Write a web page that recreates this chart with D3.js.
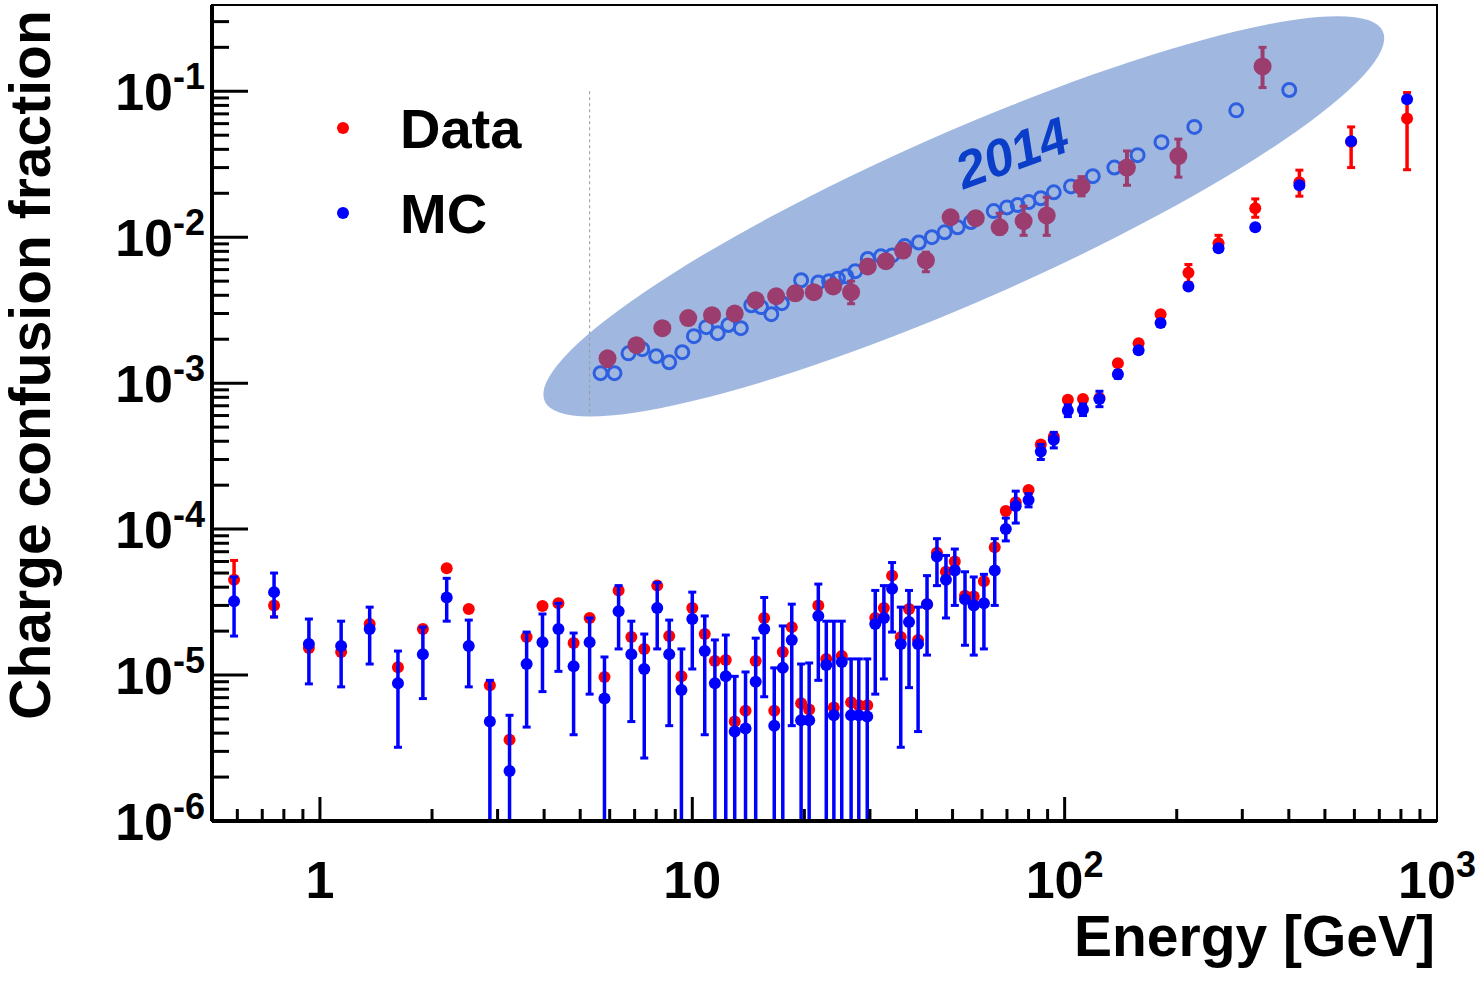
<!DOCTYPE html>
<html><head><meta charset="utf-8">
<script src="https://cdn.jsdelivr.net/npm/d3@7"></script>
<style>body{margin:0;background:#fff}text{font-family:"Liberation Sans",Arial,sans-serif;font-weight:bold}</style>
</head><body><svg width="1477" height="981"></svg>
<script>
// current measurement: energy, data, MC, MC error band
const energy = [0.588,0.753,0.934,1.14,1.36,1.62,1.89,2.19,2.51,2.86,3.23,3.59,3.96,4.37,4.80,5.30,5.81,6.34,6.86,7.43,8.05,8.67,9.35,
  10.0,10.8,11.5,12.3,13.0,13.9,14.8,15.6,16.6,17.5,18.5,19.6,20.6,21.8,22.9,24.0,25.2,26.7,28.0,29.5,31.0,32.7,34.4,36.3,38.2,40.4,42.7,
  45.4,48.0,50.7,54.0,57.0,60.7,64.9,69.5,73.9,80.0,86.3,93.5,102,112,124,139,158,181,215,259,325,427,588,831]
const dataVal = [4.5e-5,3.0e-5,1.53e-5,1.44e-5,2.24e-5,1.13e-5,2.07e-5,5.4e-5,2.83e-5,8.5e-6,3.6e-6,1.82e-5,2.97e-5,3.1e-5,1.66e-5,2.46e-5,9.7e-6,3.8e-5,1.82e-5,1.51e-5,4.1e-5,1.85e-5,9.8e-6,
  2.88e-5,1.91e-5,1.25e-5,1.27e-5,4.8e-6,5.7e-6,1.25e-5,2.46e-5,5.7e-6,1.44e-5,2.13e-5,6.4e-6,5.8e-6,3.0e-5,1.29e-5,6.0e-6,1.35e-5,6.5e-6,6.2e-6,6.2e-6,2.46e-5,2.88e-5,4.8e-5,1.82e-5,2.83e-5,1.74e-5,3.06e-5,
  6.9e-5,5.1e-5,6.0e-5,3.5e-5,3.45e-5,4.4e-5,7.5e-5,1.33e-4,1.53e-4,1.85e-4,3.8e-4,4.3e-4,7.7e-4,7.8e-4,7.9e-4,1.37e-3,1.88e-3,2.97e-3,5.7e-3,9.1e-3,1.58e-2,2.38e-2,4.5e-2,6.5e-2]
const dataLo = [null,2.5e-5,null,null,null,null,null,null,null,null,null,null,null,null,null,null,null,null,null,null,null,null,null,
  null,null,null,null,null,null,null,null,null,null,null,null,null,null,null,null,null,null,null,null,null,null,null,null,null,null,null,
  null,null,null,null,null,null,null,null,null,null,null,null,null,null,null,null,null,null,4.9e-3,null,1.37e-2,1.91e-2,3.0e-2,2.9e-2]
const dataHi = [6.1e-5,null,null,null,null,null,null,null,null,null,null,null,null,null,null,null,null,null,null,null,null,null,null,
  null,null,null,null,null,null,null,null,null,null,null,null,null,null,null,null,null,null,null,null,null,null,null,null,null,null,null,
  null,null,null,null,null,null,null,null,null,null,null,null,null,null,null,null,null,null,6.5e-3,1.03e-2,1.83e-2,2.88e-2,5.7e-2,9.8e-2]
const mcVal = [3.2e-5,3.7e-5,1.63e-5,1.58e-5,2.07e-5,8.8e-6,1.39e-5,3.4e-5,1.58e-5,4.8e-6,2.2e-6,1.19e-5,1.68e-5,2.07e-5,1.15e-5,1.68e-5,6.9e-6,2.74e-5,1.39e-5,1.1e-5,2.88e-5,1.39e-5,7.9e-6,
  2.42e-5,1.46e-5,8.8e-6,9.8e-6,4.1e-6,4.3e-6,9.0e-6,2.07e-5,4.5e-6,1.12e-5,1.74e-5,4.9e-6,4.9e-6,2.54e-5,1.17e-5,5.3e-6,1.23e-5,5.3e-6,5.3e-6,5.2e-6,2.24e-5,2.46e-5,3.9e-5,1.63e-5,2.31e-5,1.63e-5,3.06e-5,
  6.5e-5,4.5e-5,5.2e-5,3.3e-5,3.0e-5,3.1e-5,5.2e-5,1.0e-4,1.44e-4,1.58e-4,3.4e-4,4.1e-4,6.5e-4,6.6e-4,7.8e-4,1.15e-3,1.68e-3,2.58e-3,4.6e-3,8.4e-3,1.17e-2,2.27e-2,4.55e-2,8.8e-2]
const mcLo = [1.85e-5,2.5e-5,8.7e-6,8.3e-6,1.19e-5,3.2e-6,6.9e-6,2.34e-5,8.3e-6,1e-7,1e-7,4.4e-6,7.7e-6,1.06e-5,3.9e-6,7.4e-6,1e-7,1.51e-5,4.8e-6,2.7e-6,1.51e-5,4.5e-6,1e-7,
  1.1e-5,3.9e-6,1e-7,1e-7,1e-7,1e-7,1e-7,7.1e-6,1e-7,1e-7,4.5e-6,1e-7,1e-7,9.2e-6,1e-7,1e-7,1e-7,1e-7,1e-7,1e-7,7.4e-6,9.4e-6,1.97e-5,3.2e-6,8.2e-6,4.1e-6,1.37e-5,
  4.1e-5,2.46e-5,3.0e-5,1.6e-5,1.37e-5,1.51e-5,3.0e-5,8.3e-5,1.1e-4,1.42e-4,3.0e-4,3.6e-4,5.9e-4,6.0e-4,6.9e-4,1.08e-3,1.6e-3,2.45e-3,4.4e-3,8.0e-3,1.12e-2,2.2e-2,4.4e-2,8.5e-2]
const mcHi = [4.7e-5,5.0e-5,2.42e-5,2.34e-5,2.92e-5,1.46e-5,2.13e-5,4.6e-5,2.38e-5,9.2e-6,5.3e-6,1.97e-5,2.62e-5,3.1e-5,1.94e-5,2.46e-5,1.33e-5,4.1e-5,2.34e-5,1.91e-5,4.3e-5,2.38e-5,1.51e-5,
  3.7e-5,2.54e-5,1.74e-5,1.88e-5,9.8e-6,1.05e-5,1.79e-5,3.4e-5,1.12e-5,2.17e-5,3.06e-5,1.19e-5,1.21e-5,4.2e-5,2.34e-5,2.34e-5,2.34e-5,1.29e-5,1.29e-5,1.29e-5,3.8e-5,4.1e-5,5.9e-5,2.92e-5,3.8e-5,2.92e-5,4.8e-5,
  8.6e-5,6.6e-5,7.3e-5,5.1e-5,4.7e-5,4.9e-5,8.6e-5,1.19e-4,1.82e-4,1.75e-4,3.8e-4,4.6e-4,7.1e-4,7.2e-4,8.8e-4,1.22e-3,1.76e-3,2.7e-3,4.8e-3,8.8e-3,1.22e-2,2.35e-2,4.7e-2,9.1e-2]

// 2014 result (inside the shaded ellipse)
const e2014Data = [5.92,7.08,8.31,9.75,11.3,13.0,14.8,16.8,18.9,21.2,23.9,26.7,29.6,33.1,36.8,42.4,49.4,57.7,66.9,77.6,89.5,111,147,202,340]
const v2014Data = [1.48e-3,1.82e-3,2.38e-3,2.79e-3,2.92e-3,3.0e-3,3.7e-3,3.94e-3,4.13e-3,4.2e-3,4.6e-3,4.2e-3,6.3e-3,6.85e-3,8.1e-3,6.95e-3,1.37e-2,1.35e-2,1.17e-2,1.29e-2,1.41e-2,2.23e-2,3.0e-2,3.6e-2,0.148]
const lo2014Data = [1.3e-3,null,null,null,null,null,3.4e-3,null,null,null,null,3.5e-3,null,null,null,5.8e-3,null,null,1.05e-2,1.03e-2,1.03e-2,1.92e-2,2.27e-2,2.58e-2,0.106]
const hi2014Data = [null,null,null,null,null,null,null,null,null,null,null,5.0e-3,null,null,null,7.9e-3,null,null,1.46e-2,1.63e-2,1.88e-2,2.6e-2,3.9e-2,4.7e-2,0.2]
const e2014Mc = [5.67,6.18,6.74,7.34,8.0,8.67,9.4,10.1,10.9,11.7,12.5,13.5,14.4,15.3,16.3,17.4,19.6,21.8,23.3,24.6,25.9,27.4,29.6,32.1,34.4,37.2,40.6,44.0,47.6,51.6,56.0,
  64.5,70.0,74.8,80.0,86.3,93.5,104,119,136,157,182,223,289,401]
const v2014Mc = [1.17e-3,1.17e-3,1.6e-3,1.71e-3,1.53e-3,1.39e-3,1.63e-3,2.1e-3,2.42e-3,2.2e-3,2.5e-3,2.38e-3,3.42e-3,3.32e-3,2.97e-3,3.53e-3,5.07e-3,4.9e-3,5.0e-3,5.2e-3,5.4e-3,5.85e-3,7.1e-3,7.4e-3,7.5e-3,8.7e-3,9.2e-3,1.0e-2,1.08e-2,1.17e-2,1.27e-2,
  1.51e-2,1.6e-2,1.66e-2,1.74e-2,1.85e-2,2.03e-2,2.23e-2,2.62e-2,3.0e-2,3.65e-2,4.48e-2,5.7e-2,7.4e-2,0.102]

const xTicks = [1, 10, 100, 1000]
const xTickText = [['1',''],['10',''],['10','2'],['10','3']]
const yTicks = [1e-6, 1e-5, 1e-4, 1e-3, 1e-2, 1e-1]
const yTickExp = ['-6','-5','-4','-3','-2','-1']

const svg = d3.select('svg')
const x = d3.scaleLog().domain([0.513, 1000]).range([212, 1437])
const y = d3.scaleLog().domain([1e-6, 0.39]).range([821, 5]).clamp(true)

// ellipse + label
const cx = x(53.6), cy = y(1.39e-2)
svg.append('ellipse')
    .attr('cx', cx).attr('cy', cy).attr('rx', 458).attr('ry', 84)
    .attr('transform', `rotate(-23.8,${cx},${cy})`)
    .attr('fill', '#a0b8e0')
svg.append('text')
    .attr('transform', `translate(${x(75)},${y(2.9e-2)}) rotate(-20)`)
    .attr('text-anchor', 'middle').attr('font-size', 52).attr('font-style', 'italic')
    .attr('fill', '#0a3ec8').text('2014')
svg.append('line')
    .attr('x1', x(5.3)).attr('x2', x(5.3)).attr('y1', y(0.1)).attr('y2', y(6e-4))
    .attr('stroke', '#999').attr('stroke-width', 1).attr('stroke-dasharray', '3,3')

const plot = svg.append('g')

// error bars helper
function errBar(g, e, lo, hi, color, w, cap) {
    g.append('line').attr('x1', x(e)).attr('x2', x(e)).attr('y1', y(lo)).attr('y2', y(hi))
        .attr('stroke', color).attr('stroke-width', w)
    ;[lo, hi].forEach(v => {
        if (y(v) < 820) g.append('line').attr('x1', x(e) - cap).attr('x2', x(e) + cap)
            .attr('y1', y(v)).attr('y2', y(v)).attr('stroke', color).attr('stroke-width', 3)
    })
}

// 2014 points
e2014Mc.forEach((e, i) => {
    plot.append('circle').attr('cx', x(e)).attr('cy', y(v2014Mc[i])).attr('r', 6.5)
        .attr('fill', 'none').attr('stroke', '#2e5fe0').attr('stroke-width', 3)
})
e2014Data.forEach((e, i) => {
    const lo = lo2014Data[i] || v2014Data[i], hi = hi2014Data[i] || v2014Data[i]
    errBar(plot, e, lo, hi, '#9b3d6e', 4, 4)
    plot.append('circle').attr('cx', x(e)).attr('cy', y(v2014Data[i])).attr('r', 9).attr('fill', '#9b3d6e')
})

// current data and MC
energy.forEach((e, i) => {
    const lo = dataLo[i] || dataVal[i], hi = dataHi[i] || dataVal[i]
    errBar(plot, e, lo, hi, '#ff0000', 3.5, 4)
    plot.append('circle').attr('cx', x(e)).attr('cy', y(dataVal[i])).attr('r', 6).attr('fill', '#ff0000')
})
energy.forEach((e, i) => {
    errBar(plot, e, mcLo[i], mcHi[i], '#0000ff', 3.5, 4)
    plot.append('circle').attr('cx', x(e)).attr('cy', y(mcVal[i])).attr('r', 6).attr('fill', '#0000ff')
})

// frame
svg.append('rect').attr('x', 212).attr('y', 5).attr('width', 1225).attr('height', 816)
    .attr('fill', 'none').attr('stroke', '#000').attr('stroke-width', 2)
svg.append('line').attr('x1', 212).attr('x2', 1437).attr('y1', 821).attr('y2', 821).attr('stroke', '#000').attr('stroke-width', 4)
svg.append('line').attr('x1', 212).attr('x2', 212).attr('y1', 5).attr('y2', 821).attr('stroke', '#000').attr('stroke-width', 4)

// x ticks
const xMinor = []
for (let d = 0.1; d < 1000; d *= 10) for (let k = 1; k < 10; k++) { const v = d * k; if (v >= 0.52 && v <= 1000) xMinor.push(v) }
xMinor.forEach(v => {
    const major = xTicks.includes(Math.round(v * 1000) / 1000)
    svg.append('line').attr('x1', x(v)).attr('x2', x(v)).attr('y1', 821).attr('y2', 821 - (major ? 24 : 12))
        .attr('stroke', '#000').attr('stroke-width', 3)
})
xTicks.forEach((v, i) => {
    const t = svg.append('text').attr('x', x(v)).attr('y', 898).attr('text-anchor', 'middle').attr('font-size', 52)
    t.append('tspan').text(xTickText[i][0])
    if (xTickText[i][1]) t.append('tspan').attr('dy', -21).attr('font-size', 36).text(xTickText[i][1])
})

// y ticks
for (let d = 1e-6; d < 0.3; d *= 10) for (let k = 1; k < 10; k++) {
    const v = d * k
    if (v > 0.39) continue
    svg.append('line').attr('x1', 212).attr('x2', 212 + (k === 1 ? 36 : 17)).attr('y1', y(v)).attr('y2', y(v))
        .attr('stroke', '#000').attr('stroke-width', 3)
}
yTicks.forEach((v, i) => {
    const t = svg.append('text').attr('x', 205).attr('y', y(v) + 19).attr('text-anchor', 'end').attr('font-size', 52)
    t.append('tspan').text('10')
    t.append('tspan').attr('dy', -21).attr('font-size', 36).text(yTickExp[i])
})

// axis titles
svg.append('text').attr('x', 1435).attr('y', 956).attr('text-anchor', 'end').attr('font-size', 57).text('Energy [GeV]')
svg.append('text').attr('transform', 'translate(50,365) rotate(-90)').attr('text-anchor', 'middle')
    .attr('font-size', 57).text('Charge confusion fraction')

// legend
const legend = [['Data', '#ff0000', 128], ['MC', '#0000ff', 213]]
legend.forEach(l => {
    svg.append('circle').attr('cx', 343).attr('cy', l[2]).attr('r', 6).attr('fill', l[1])
    svg.append('text').attr('x', 400).attr('y', l[2] + 20).attr('font-size', 56).text(l[0])
})
</script></body></html>
